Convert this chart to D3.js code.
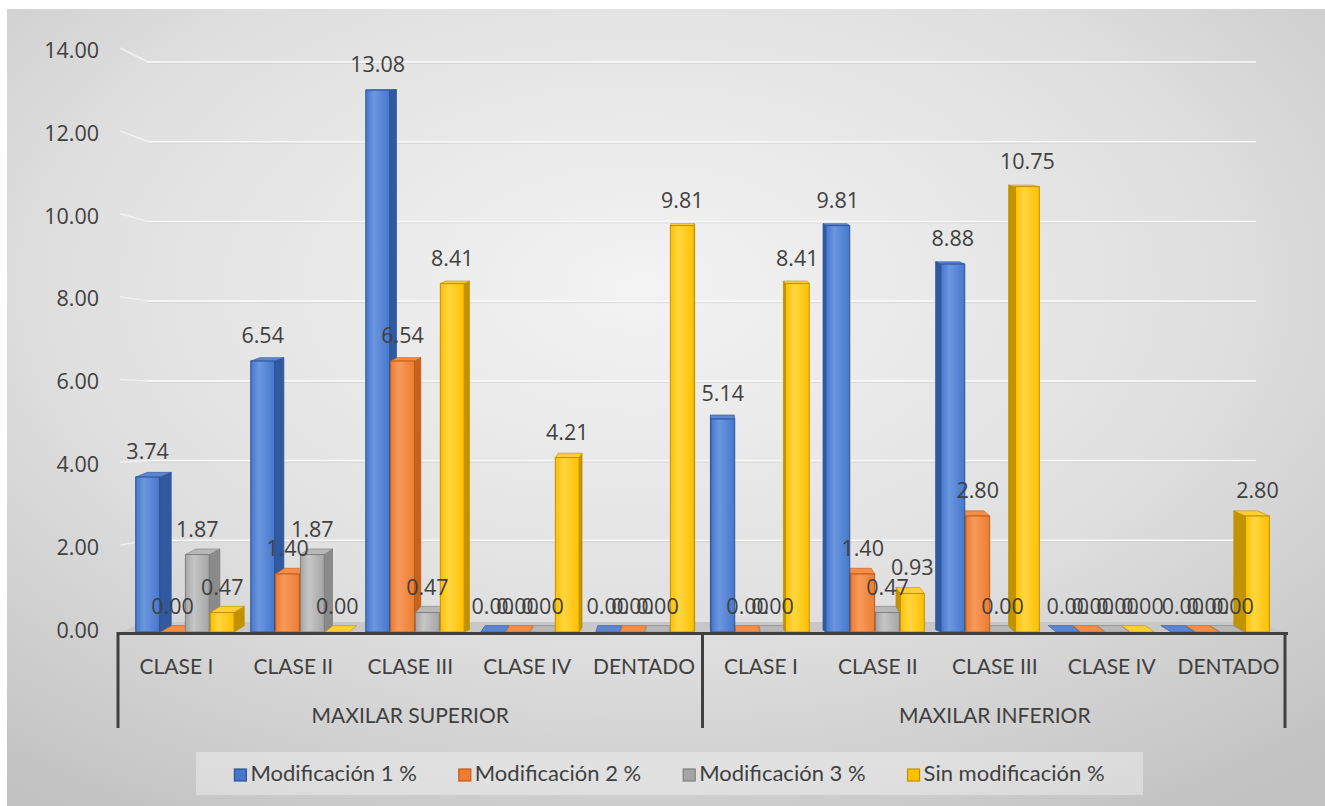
<!DOCTYPE html>
<html>
<head>
<meta charset="utf-8">
<script src="https://cdn.jsdelivr.net/npm/d3@7"></script>
<style>
  body { margin: 0; background: #ffffff; }
  svg { display: block; }
  .val { font-family: "Open Sans", sans-serif; font-size: 21.5px; fill: #404040; }
  .tick-lbl { font-family: "Open Sans", sans-serif; font-size: 21.5px; fill: #404040; }
  .cat { font-family: Lato, sans-serif; font-size: 21px; fill: #404040; }
  .leg { font-family: Lato, sans-serif; font-size: 22px; fill: #404040; }
</style>
</head>
<body>
<script>
// ---- data ----
var categories = ["CLASE I", "CLASE II", "CLASE III", "CLASE IV", "DENTADO"];
var groups = ["MAXILAR SUPERIOR", "MAXILAR INFERIOR"];
var seriesNames = ["Modificación 1 %", "Modificación 2 %", "Modificación 3 %", "Sin modificación %"];
var mod1 = [3.74, 6.54, 13.08, 0.00, 0.00, 5.14, 9.81, 8.88, 0.00, 0.00];
var mod2 = [0.00, 1.40, 6.54, 0.00, 0.00, 0.00, 1.40, 2.80, 0.00, 0.00];
var mod3 = [1.87, 1.87, 0.47, 0.00, 0.00, 0.00, 0.47, 0.00, 0.00, 0.00];
var sinMod = [0.47, 0.00, 8.41, 4.21, 9.81, 8.41, 0.93, 10.75, 0.00, 2.80];
var yTicks = [0, 2, 4, 6, 8, 10, 12, 14];

var seriesValues = [mod1, mod2, mod3, sinMod];
var palette = [
  {front: "#4677cc", light: "#6b97e0", stroke: "#2f5597", side: "#30599f", top: "#5a86d4"},
  {front: "#ed7d31", light: "#f79a5c", stroke: "#c55a11", side: "#c4621e", top: "#f28d4a"},
  {front: "#a5a5a5", light: "#c6c6c6", stroke: "#7f7f7f", side: "#8a8a8a", top: "#b8b8b8"},
  {front: "#ffc000", light: "#ffd640", stroke: "#bf9000", side: "#c29300", top: "#ffcf33"}
];

var W = 1325, H = 806;
var svg = d3.select("body").append("svg").attr("width", W).attr("height", H);
var defs = svg.append("defs");

var bg = defs.append("radialGradient").attr("id", "bg")
  .attr("cx", "48%").attr("cy", "35%").attr("r", "78%");
bg.append("stop").attr("offset", "0%").attr("stop-color", "#f3f3f3");
bg.append("stop").attr("offset", "55%").attr("stop-color", "#e0e0e0");
bg.append("stop").attr("offset", "100%").attr("stop-color", "#c2c2c2");

palette.forEach(function(p, i) {
  var g = defs.append("linearGradient").attr("id", "fr" + i)
    .attr("x1", "0%").attr("x2", "100%").attr("y1", "0%").attr("y2", "0%");
  g.append("stop").attr("offset", "0%").attr("stop-color", p.front);
  g.append("stop").attr("offset", "35%").attr("stop-color", p.light);
  g.append("stop").attr("offset", "100%").attr("stop-color", p.front);
});

svg.append("rect").attr("x", 7).attr("y", 9).attr("width", W - 7).attr("height", H - 9)
  .attr("fill", "url(#bg)");

// ---- scales ----
var left = 118, right = 1287, mid = 702;
var x0 = d3.scaleBand().domain(d3.range(10)).range([left, right]);
var x1 = d3.scaleBand().domain(d3.range(4)).range([8.5, 108.5]).paddingInner(0.04);
var y = d3.scaleLinear().domain([0, 14]).range([632, 52]);
var yBack = d3.scaleLinear().domain([0, 14]).range([620, 62]);
var wallL = 148, wallR = 1256;
function persp(x) { return mid + 0.984 * (x - mid); }

// ---- back wall gridlines + side wall connectors ----
var grid = svg.append("g");
yTicks.forEach(function(t) {
  if (t === 0) return;
  grid.append("line").attr("x1", wallL).attr("x2", wallR)
    .attr("y1", yBack(t) + 1.5).attr("y2", yBack(t) + 1.5)
    .attr("stroke", "#cdcdcd").attr("stroke-width", 1).attr("opacity", 0.6);
  grid.append("line").attr("x1", wallL).attr("x2", wallR)
    .attr("y1", yBack(t)).attr("y2", yBack(t))
    .attr("stroke", "#f8f8f8").attr("stroke-width", 1.6);
  grid.append("line").attr("x1", left + 2).attr("x2", wallL)
    .attr("y1", y(t) - 4).attr("y2", yBack(t))
    .attr("stroke", "#f2f2f2").attr("stroke-width", 1.4);
});

// floor
svg.append("path")
  .attr("d", d3.line()([[left, y(0) + 1], [right, y(0) + 1], [wallR + 2, yBack(0) + 2], [wallL - 2, yBack(0) + 2]]) + "Z")
  .attr("fill", "#c8c8c8");

// ---- bars ----
var bars = [];
seriesValues.forEach(function(vals, s) {
  vals.forEach(function(v, c) {
    var xa = persp(x0(c) + x1(s));
    var xb = persp(x0(c) + x1(s) + x1.bandwidth());
    bars.push({s: s, c: c, v: v, xa: xa, xb: xb, xc: (xa + xb) / 2});
  });
});
// painter's order: outermost first toward the centre
bars.sort(function(a, b) { return Math.abs(b.xc - mid) - Math.abs(a.xc - mid); });

var barG = svg.append("g");
bars.forEach(function(d) {
  var p = palette[d.s];
  var yt = y(d.v), yb = y(0);
  var dx = (mid - d.xc) * 0.021;
  var dy = (yt - 50) * 0.011;
  var g = barG.append("g");
  var sx = dx > 0 ? d.xb : d.xa;
  if (d.v > 0) {
    g.append("path")
      .attr("d", d3.line()([[sx, yb], [sx + dx, yb - dy], [sx + dx, yt - dy], [sx, yt]]) + "Z")
      .attr("fill", p.side).attr("stroke", p.stroke).attr("stroke-width", 0.8);
  }
  g.append("path")
    .attr("d", d3.line()([[d.xa, yt], [d.xb, yt], [d.xb + dx, yt - dy], [d.xa + dx, yt - dy]]) + "Z")
    .attr("fill", p.top).attr("stroke", p.stroke).attr("stroke-width", 0.6);
  if (d.v > 0) {
    g.append("rect").attr("x", d.xa).attr("y", yt)
      .attr("width", d.xb - d.xa).attr("height", yb - yt)
      .attr("fill", "url(#fr" + d.s + ")").attr("stroke", p.stroke).attr("stroke-width", 1);
  }
});

// ---- value labels ----
svg.append("g").selectAll("text").data(bars.slice().sort(function(a, b) { return a.c - b.c || a.s - b.s; }))
  .enter().append("text")
  .attr("class", "val")
  .attr("x", function(d) { return d.xc; })
  .attr("y", function(d) { return y(d.v) - 18; })
  .attr("text-anchor", "middle")
  .text(function(d) { return d3.format(".2f")(d.v); });

// ---- y axis labels ----
var yAxis = d3.axisLeft(y).tickValues(yTicks).tickFormat(d3.format(".2f")).tickSize(0).tickPadding(0);
var ya = svg.append("g").attr("transform", "translate(99,-1.5)").call(yAxis);
ya.select(".domain").remove();
ya.selectAll("text").attr("class", "tick-lbl").attr("font-family", null).attr("font-size", null).attr("fill", null);

// ---- category axis ----
var ax = svg.append("g");
ax.append("line").attr("x1", left).attr("x2", right + 1).attr("y1", y(0) + 1.5).attr("y2", y(0) + 1.5)
  .attr("stroke", "#404040").attr("stroke-width", 3);
[left, x0(5), right - 2].forEach(function(xv) {
  ax.append("line").attr("x1", xv).attr("x2", xv).attr("y1", y(0)).attr("y2", 728)
    .attr("stroke", "#404040").attr("stroke-width", 3);
});
ax.selectAll("text.cat").data(d3.range(10)).enter().append("text")
  .attr("class", "cat")
  .attr("x", function(i) { return x0(i) + x0.bandwidth() / 2; })
  .attr("y", 674)
  .attr("text-anchor", "middle")
  .text(function(i) { return categories[i % 5]; });
ax.selectAll("text.grp").data(groups).enter().append("text")
  .attr("class", "cat")
  .attr("x", function(g, i) { return (x0(i * 5) + x0(i * 5 + 4) + x0.bandwidth()) / 2; })
  .attr("y", 723)
  .attr("text-anchor", "middle")
  .text(function(g) { return g; });

// ---- legend ----
var legBox = {x: 196, y: 752, w: 947, h: 43};
svg.append("rect").attr("x", legBox.x).attr("y", legBox.y).attr("width", legBox.w).attr("height", legBox.h)
  .attr("fill", "#ffffff").attr("opacity", 0.35);
var leg = svg.append("g");
var items = seriesNames.map(function(n, i) {
  var g = leg.append("g");
  g.append("rect").attr("width", 12).attr("height", 12).attr("y", -12)
    .attr("fill", palette[i].front).attr("stroke", palette[i].stroke).attr("stroke-width", 1.2);
  var t = g.append("text").attr("class", "leg").attr("x", 16).attr("y", 0).text(n);
  return {g: g, w: 16 + t.node().getComputedTextLength()};
});
var gap = 42;
var total = d3.sum(items, function(d) { return d.w; }) + gap * (items.length - 1);
var cx = legBox.x + (legBox.w - total) / 2;
items.forEach(function(it) {
  it.g.attr("transform", "translate(" + cx + "," + (legBox.y + 29) + ")");
  cx += it.w + gap;
});
</script>
</body>
</html>
